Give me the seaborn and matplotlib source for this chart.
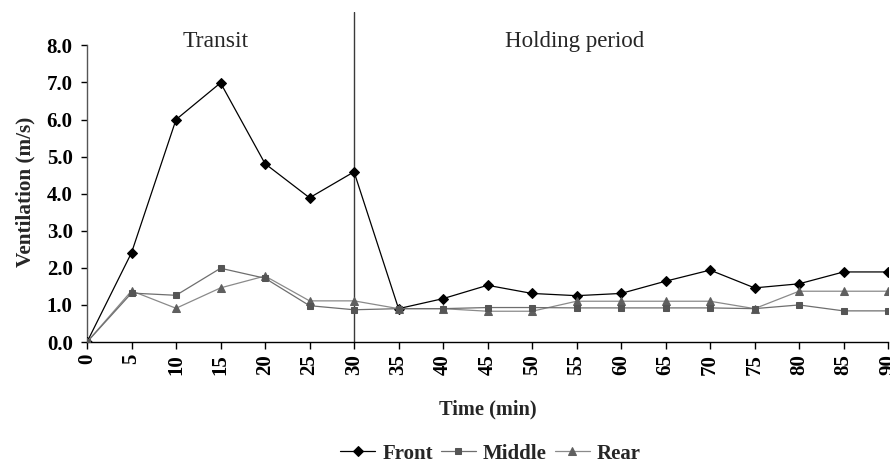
import matplotlib
matplotlib.use("Agg")
import matplotlib.pyplot as plt
import seaborn as sns
import pandas as pd

time_min = [0, 5, 10, 15, 20, 25, 30, 35, 40, 45, 50, 55, 60, 65, 70, 75, 80, 85, 90]
front = [0.0, 2.41, 6.0, 6.99, 4.81, 3.89, 4.59, 0.9, 1.17, 1.53, 1.31, 1.25, 1.31, 1.64, 1.94, 1.46, 1.57, 1.89, 1.89]
middle = [0.0, 1.32, 1.26, 1.99, 1.72, 0.98, 0.87, 0.9, 0.9, 0.93, 0.93, 0.92, 0.92, 0.92, 0.92, 0.9, 1.0, 0.84, 0.84]
rear = [0.0, 1.38, 0.91, 1.46, 1.78, 1.11, 1.11, 0.9, 0.9, 0.83, 0.83, 1.1, 1.1, 1.1, 1.1, 0.9, 1.37, 1.37, 1.37]
yticks = [0, 1, 2, 3, 4, 5, 6, 7, 8]
phase_labels = ["Transit", "Holding period"]
phase_split = 30

sns.set_style("white")
plt.rcParams['font.family'] = ['Liberation Serif', 'DejaVu Serif']

fig = plt.figure(figsize=(8.9, 4.63), dpi=100)
ax = fig.add_axes([0.0978, 0.2613, 0.9, 0.7127])

df = pd.DataFrame({"t": time_min, "Front": front, "Middle": middle, "Rear": rear})

sns.lineplot(data=df, x="t", y="Front", ax=ax, color="black", lw=0.9,
             marker="D", markersize=5, markerfacecolor="black", markeredgecolor="black",
             label="Front", zorder=3)
sns.lineplot(data=df, x="t", y="Rear", ax=ax, color="#8a8a8a", lw=0.9,
             marker="^", markersize=6, markerfacecolor="#5f5f5f", markeredgecolor="#5f5f5f",
             label="Rear", zorder=4)
sns.lineplot(data=df, x="t", y="Middle", ax=ax, color="#6e6e6e", lw=0.9,
             marker="s", markersize=5, markerfacecolor="#555555", markeredgecolor="#555555",
             label="Middle", zorder=5)

ax.axvline(phase_split, color="#3a3a3a", lw=1.0, zorder=2)

ax.set_xlim(0, 90)
ax.set_ylim(0, 8.9)
ax.set_xticks(time_min)
ax.set_xticklabels([str(t) for t in time_min], rotation=90, fontsize=15, fontweight="bold")
ax.set_yticks(yticks)
ax.set_yticklabels([f"{v:.1f}" for v in yticks], fontsize=15, fontweight="bold")

for s in ["top", "right"]:
    ax.spines[s].set_visible(False)
ax.spines["left"].set_bounds(0, 8)
ax.spines["left"].set_color("#555555")
ax.spines["bottom"].set_color("black")
ax.tick_params(axis="x", direction="out", length=5, width=1, pad=3.5, colors="black", bottom=True)
ax.tick_params(axis="y", direction="out", length=4.3, width=1, pad=6, colors="black", left=True)
ax.spines["left"].set_linewidth(1)
ax.spines["bottom"].set_linewidth(1)

ax.set_xlabel("Time (min)", fontsize=14.7, fontweight="bold")
ax.xaxis.set_label_coords(0.5006, -0.173)
ax.set_ylabel("Ventilation (m/s)", fontsize=15.3, fontweight="bold")
ax.yaxis.set_label_coords(-0.064, 0.455)

ax.text(14.4, 8.1, phase_labels[0], fontsize=17, ha="center", va="center")
ax.text(54.8, 8.1, phase_labels[1], fontsize=16.5, ha="center", va="center")

handles, labels = ax.get_legend_handles_labels()
order = [labels.index(n) for n in ["Front", "Middle", "Rear"]]
leg = ax.legend([handles[i] for i in order], [labels[i] for i in order],
                loc="center", bbox_to_anchor=(0.551, 0.02), bbox_transform=fig.transFigure,
                ncol=3, frameon=False, handlelength=1.68, handletextpad=0.34, columnspacing=0.38,
                prop={"weight": "bold", "size": 15})

fig.savefig("out.png", dpi=100)
